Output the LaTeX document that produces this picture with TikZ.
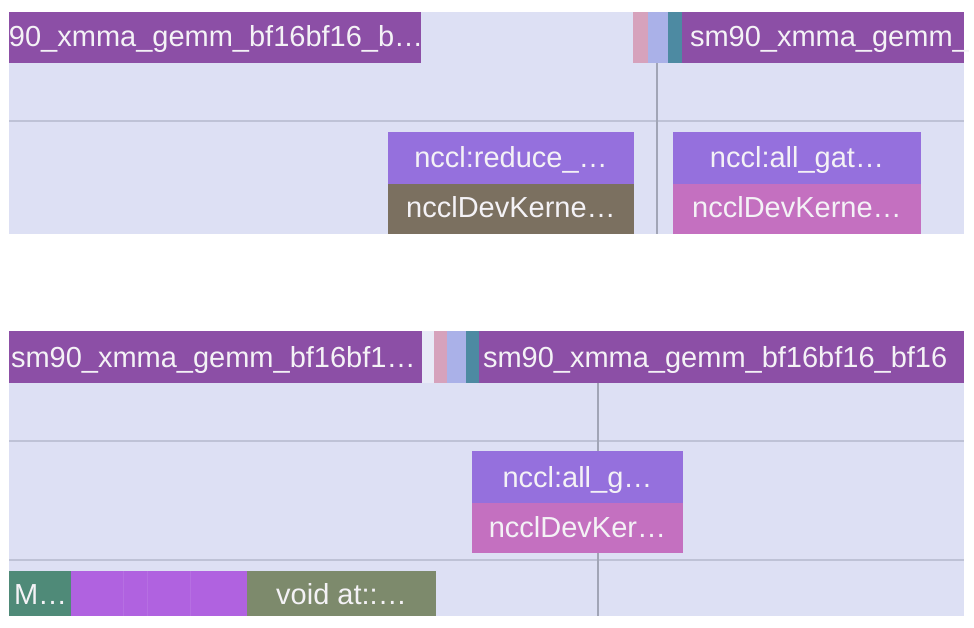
\documentclass[tikz,border=0pt]{standalone}
\usepackage{fontspec}
\setmainfont{Liberation Sans}
\definecolor{panelbg}{HTML}{DDE0F4}
\definecolor{gridc}{HTML}{BEC2D6}
\definecolor{gemm}{HTML}{8C4FA6}
\definecolor{ncclA}{HTML}{9570DD}
\definecolor{ncclB}{HTML}{7B7060}
\definecolor{ncclC}{HTML}{C470C0}
\definecolor{mbox}{HTML}{4F8A78}
\definecolor{pbox}{HTML}{B062E0}
\definecolor{vbox}{HTML}{7D8A6C}
\definecolor{spink}{HTML}{D6A2BC}
\definecolor{slav}{HTML}{AAB1E8}
\definecolor{steal}{HTML}{4D8AA2}
\definecolor{swhite}{HTML}{E8EAF7}
\definecolor{txtc}{HTML}{F4F2F6}
\begin{document}
\begin{tikzpicture}[x=1pt,y=-1pt,
  box/.style={draw=none,inner sep=0pt,outer sep=0pt,anchor=north west},
  lbl/.style={inner sep=0pt,outer sep=0pt,text=txtc,font=\fontsize{29}{30}\selectfont},
  gridline/.style={draw=gridc,line width=2pt},
  vline/.style={draw=gridc!85!black,line width=1.2pt}]
\useasboundingbox[fill=white] (0,0) rectangle (974,628);

% ---------------- top panel ----------------
\fill[panelbg] (9,12) rectangle (964,234);
\draw[gridline] (9,121) -- (964,121);
\draw[vline] (657,63) -- (657,234);

\node[box,fill=gemm,minimum width=412pt,minimum height=51pt] (g1) at (9,12) {};
\node[lbl,anchor=base west] (g1t) at (9,47) {90\_xmma\_gemm\_bf16bf16\_b…};

\fill[spink] (633,12) rectangle (648,63);
\fill[slav] (648,12) rectangle (668,63);
\fill[steal] (668,12) rectangle (682,63);
\node[box,fill=gemm,minimum width=282pt,minimum height=51pt] (g2) at (682,12) {};
\node[lbl,anchor=base west] (g2t) at (690,47) {sm90\_xmma\_gemm\_};

\node[box,fill=ncclA,minimum width=246pt,minimum height=52pt] (r1) at (388,132) {};
\node[lbl,anchor=base] (r1t) at ([yshift=-36pt]r1.north) {nccl:reduce\_…};
\node[box,fill=ncclB,minimum width=246pt,minimum height=50pt] (r2) at (388,184) {};
\node[lbl,anchor=base] (r2t) at ([yshift=-34pt]r2.north) {ncclDevKerne…};

\node[box,fill=ncclA,minimum width=248pt,minimum height=52pt] (a1) at (673,132) {};
\node[lbl,anchor=base] (a1t) at ([yshift=-36pt]a1.north) {nccl:all\_gat…};
\node[box,fill=ncclC,minimum width=248pt,minimum height=50pt] (a2) at (673,184) {};
\node[lbl,anchor=base] (a2t) at ([yshift=-34pt]a2.north) {ncclDevKerne…};

% ---------------- bottom panel ----------------
\fill[panelbg] (9,331) rectangle (964,616);
\draw[gridline] (9,441) -- (964,441);
\draw[gridline] (9,560) -- (964,560);
\draw[vline] (598,383) -- (598,616);

\node[box,fill=gemm,minimum width=413pt,minimum height=52pt] (h1) at (9,331) {};
\node[lbl,anchor=base west] (h1t) at (11,367) {sm90\_xmma\_gemm\_bf16bf1…};

\fill[swhite] (422,331) rectangle (434,383);
\fill[spink] (434,331) rectangle (447,383);
\fill[slav] (447,331) rectangle (466,383);
\fill[steal] (466,331) rectangle (479,383);
\node[box,fill=gemm,minimum width=485pt,minimum height=52pt] (h2) at (479,331) {};
\node[lbl,anchor=base west] (h2t) at (483,367) {sm90\_xmma\_gemm\_bf16bf16\_bf16};

\node[box,fill=ncclA,minimum width=211pt,minimum height=52pt] (b1) at (472,451) {};
\node[lbl,anchor=base] (b1t) at ([yshift=-36pt]b1.north) {nccl:all\_g…};
\node[box,fill=ncclC,minimum width=211pt,minimum height=50pt] (b2) at (472,503) {};
\node[lbl,anchor=base] (b2t) at ([yshift=-34pt]b2.north) {ncclDevKer…};

\node[box,fill=mbox,minimum width=62pt,minimum height=45pt] (m1) at (9,571) {};
\node[lbl,anchor=base west] (m1t) at (14,604) {M…};
\node[box,fill=pbox,minimum width=176pt,minimum height=45pt] (p1) at (71,571) {};
\draw[pbox!92!white,line width=0.5pt] (123,571) -- (123,616) (147,571) -- (147,616) (190,571) -- (190,616);
\node[box,fill=vbox,minimum width=189pt,minimum height=45pt] (v1) at (247,571) {};
\node[lbl,anchor=base] (v1t) at ([yshift=-33pt]v1.north) {void at::…};
\end{tikzpicture}
\end{document}
